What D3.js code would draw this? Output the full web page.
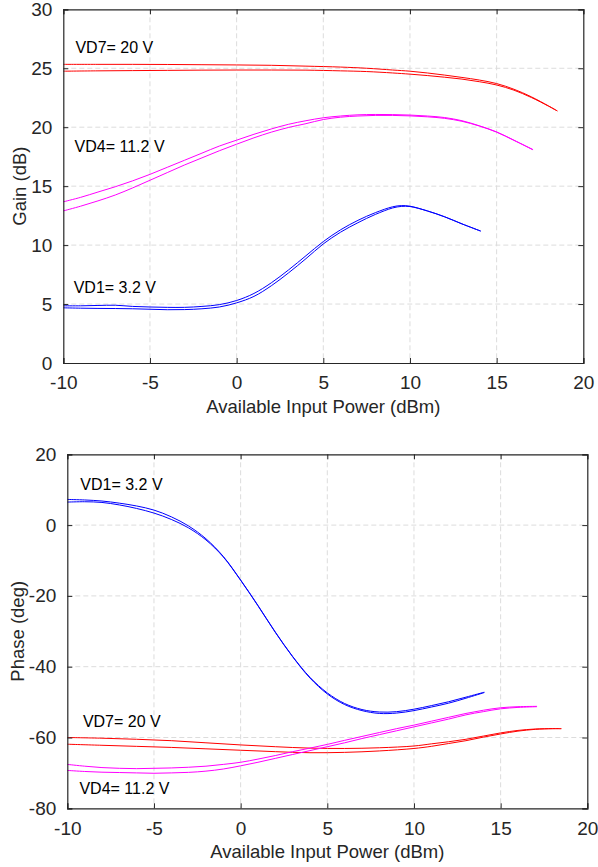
<!DOCTYPE html>
<html>
<head>
<meta charset="utf-8">
<script src="https://cdn.jsdelivr.net/npm/d3@7"></script>
<style>
  html, body { margin: 0; padding: 0; background: #fff; }
  svg { display: block; font-family: "Liberation Sans", Arial, Helvetica, sans-serif; }
</style>
</head>
<body>
<svg id="chart" width="598" height="867"></svg>
<script>
// ---- Axis ticks ----
const xTicks = [-10, -5, 0, 5, 10, 15, 20];
const gainTicks = [0, 5, 10, 15, 20, 25, 30];
const phaseTicks = [-80, -60, -40, -20, 0, 20];

// ---- Gain vs available input power (two sweeps per drain bias) ----
const gainVD1x = [-10, -9, -8, -7, -6, -5, -4, -3, -2, -1, 0, 1, 2, 3, 4, 5, 6, 7, 8, 9, 9.5, 10, 11, 12, 13, 14.08];
const gainVD1a = [4.85, 4.85, 4.88, 4.9, 4.8, 4.75, 4.72, 4.72, 4.8, 4.95, 5.3, 5.9, 6.8, 7.9, 9.1, 10.3, 11.3, 12.1, 12.75, 13.25, 13.35, 13.3, 12.9, 12.4, 11.8, 11.19];
const gainVD1b = [4.68, 4.65, 4.63, 4.62, 4.6, 4.56, 4.52, 4.53, 4.6, 4.75, 5.1, 5.65, 6.55, 7.65, 8.85, 10.1, 11.1, 11.9, 12.6, 13.15, 13.28, 13.27, 12.9, 12.4, 11.8, 11.19];

const gainVD4x = [-10, -9, -8, -7, -6, -5, -4, -3, -2, -1, 0, 1, 2, 3, 4, 5, 6, 7, 8, 9, 10, 11, 12, 13, 14, 15, 16, 17.1];
const gainVD4a = [13.67, 14.05, 14.5, 14.95, 15.45, 16.0, 16.6, 17.2, 17.8, 18.4, 18.9, 19.4, 19.85, 20.25, 20.55, 20.8, 20.95, 21.05, 21.08, 21.07, 21.03, 20.95, 20.82, 20.55, 20.12, 19.6, 18.9, 18.1];
const gainVD4b = [12.9, 13.3, 13.75, 14.25, 14.85, 15.5, 16.15, 16.8, 17.4, 18.0, 18.56, 19.1, 19.58, 19.98, 20.3, 20.65, 20.85, 20.95, 21.0, 21.0, 20.96, 20.88, 20.75, 20.5, 20.1, 19.58, 18.88, 18.08];

const gainVD7x = [-10, -8, -6, -4, -2, 0, 2, 4, 6, 7.5, 9, 10, 11, 12, 13, 14, 15, 16, 17, 18, 18.5];
const gainVD7a = [25.33, 25.33, 25.33, 25.32, 25.3, 25.28, 25.25, 25.18, 25.1, 25.0, 24.85, 24.75, 24.6, 24.42, 24.22, 24.0, 23.7, 23.22, 22.58, 21.8, 21.38];
const gainVD7b = [24.75, 24.78, 24.8, 24.82, 24.84, 24.85, 24.85, 24.84, 24.78, 24.72, 24.6, 24.5, 24.38, 24.24, 24.08, 23.86, 23.58, 23.14, 22.52, 21.78, 21.38];

// ---- Phase vs available input power ----
const phaseVD1x = [-10, -9, -8, -7, -6, -5, -4, -3, -2, -1, 0, 1, 2, 3, 4, 5, 6, 7, 8, 9, 10, 11, 12, 13, 14.06];
const phaseVD1a = [7.25, 7.1, 6.8, 6.2, 5.4, 4.24, 2.34, -0.26, -3.86, -8.86, -15.5, -22.7, -30.2, -37.1, -43.0, -47.4, -50.4, -52.1, -52.8, -52.7, -52.0, -51.0, -49.9, -48.6, -47.2];
const phaseVD1b = [6.5, 6.6, 6.4, 5.7, 4.7, 3.4, 1.6, -0.8, -4.2, -9.0, -15.6, -22.8, -30.3, -37.2, -43.2, -47.7, -50.7, -52.4, -53.2, -53.1, -52.4, -51.4, -50.3, -48.9, -47.3];

const phaseVD4x = [-10, -9, -8, -7, -6, -5, -4, -3, -2, -1, 0, 1, 2, 3, 4, 5, 6, 7, 8, 9, 10, 11, 12, 13, 14, 15, 16, 17.1];
const phaseVD4a = [-67.6, -68.1, -68.5, -68.7, -68.8, -68.7, -68.6, -68.4, -68.1, -67.6, -67.0, -66.1, -65.1, -64.0, -63.0, -61.95, -60.8, -59.7, -58.6, -57.5, -56.5, -55.4, -54.3, -53.2, -52.3, -51.6, -51.3, -51.2];
const phaseVD4b = [-69.3, -69.6, -69.8, -69.9, -70.0, -70.1, -70.0, -69.85, -69.5, -68.9, -68.0, -67.0, -65.9, -64.8, -63.7, -62.6, -61.5, -60.3, -59.2, -58.1, -57.0, -55.9, -54.8, -53.6, -52.7, -51.9, -51.5, -51.3];

const phaseVD7x = [-10, -8, -6, -4, -2, 0, 2, 4, 6, 8, 10, 11, 12, 13, 14, 15, 16, 17, 18, 18.5];
const phaseVD7a = [-60.0, -60.2, -60.5, -60.9, -61.5, -62.1, -62.6, -63.0, -63.1, -62.9, -62.4, -61.8, -61.2, -60.5, -59.6, -58.7, -58.0, -57.6, -57.5, -57.5];
const phaseVD7b = [-61.9, -62.2, -62.5, -62.8, -63.2, -63.6, -64.0, -64.3, -64.2, -63.8, -63.1, -62.5, -61.7, -60.9, -59.9, -59.0, -58.2, -57.7, -57.5, -57.5];

// ---- Bias labels ----
const gainLabels = [
  { text: "VD7= 20 V", x: -9.3, y: 26.3 },
  { text: "VD4= 11.2 V", x: -9.35, y: 17.9 },
  { text: "VD1= 3.2 V", x: -9.4, y: 5.9 }
];
const phaseLabels = [
  { text: "VD1= 3.2 V", x: -9.25, y: 9.9 },
  { text: "VD7= 20 V", x: -9.1, y: -57.0 },
  { text: "VD4= 11.2 V", x: -9.3, y: -75.9 }
];

const colors = { vd1: "#0000ff", vd4: "#ff00ff", vd7: "#ff0000" };
const ink = "#262626";

const svg = d3.select("#chart");

function zip(xs, ys) { return xs.map((x, i) => [x, ys[i]]); }

function drawPanel(cfg) {
  const x = d3.scaleLinear().domain([-10, 20]).range([cfg.left, cfg.right]);
  const y = d3.scaleLinear().domain(cfg.yDomain).range([cfg.bottom, cfg.top]);
  const g = svg.append("g");

  // dashed grid
  const grid = g.append("g").attr("stroke", "#dcdcdc").attr("stroke-width", 1).attr("stroke-dasharray", "5,3");
  xTicks.slice(1, -1).forEach(t => {
    grid.append("line").attr("x1", x(t)).attr("x2", x(t)).attr("y1", cfg.top).attr("y2", cfg.bottom);
  });
  cfg.yTicks.slice(1, -1).forEach(t => {
    grid.append("line").attr("x1", cfg.left).attr("x2", cfg.right).attr("y1", y(t)).attr("y2", y(t));
  });

  // measured curves
  const line = d3.line().x(d => x(d[0])).y(d => y(d[1])).curve(d3.curveCatmullRom.alpha(0.5));
  cfg.series.forEach(s => {
    g.append("path").attr("d", line(s.data)).attr("fill", "none")
      .attr("stroke", s.color).attr("stroke-width", 1);
  });

  // axes with inward ticks on all four sides
  const tl = 5;
  const fmt = d => String(d);
  const bottomAxis = d3.axisBottom(x).tickValues(xTicks).tickSize(-tl).tickPadding(tl + 8).tickFormat(fmt);
  const topAxis = d3.axisTop(x).tickValues(xTicks).tickSize(-tl).tickFormat("");
  const leftAxis = d3.axisLeft(y).tickValues(cfg.yTicks).tickSize(-tl).tickPadding(tl + 6).tickFormat(fmt);
  const rightAxis = d3.axisRight(y).tickValues(cfg.yTicks).tickSize(-tl).tickFormat("");

  const ax = [
    g.append("g").attr("transform", `translate(0,${cfg.bottom})`).call(bottomAxis),
    g.append("g").attr("transform", `translate(0,${cfg.top})`).call(topAxis),
    g.append("g").attr("transform", `translate(${cfg.left},0)`).call(leftAxis),
    g.append("g").attr("transform", `translate(${cfg.right},0)`).call(rightAxis)
  ];
  ax.forEach(a => {
    a.selectAll("path.domain").attr("stroke", ink).attr("stroke-width", 1.2);
    a.selectAll(".tick line").attr("stroke", ink).attr("stroke-width", 1);
    a.selectAll(".tick text").attr("fill", ink).attr("font-size", 19)
      .attr("font-family", "'Liberation Sans', Arial, sans-serif");
  });

  // axis titles
  g.append("text").attr("x", (cfg.left + cfg.right) / 2).attr("y", cfg.bottom + 50)
    .attr("text-anchor", "middle").attr("font-size", 18.5).attr("fill", ink)
    .text("Available Input Power (dBm)");
  g.append("text")
    .attr("transform", `translate(${cfg.yTitleX},${(cfg.top + cfg.bottom) / 2}) rotate(-90)`)
    .attr("text-anchor", "middle").attr("font-size", 18.5).attr("fill", ink)
    .text(cfg.yTitle);

  // bias annotations
  cfg.labels.forEach(l => {
    g.append("text").attr("x", x(l.x)).attr("y", y(l.y))
      .attr("font-size", 16).attr("fill", "#000").text(l.text);
  });
}

drawPanel({
  left: 63.3, right: 583.3, top: 9.3, bottom: 363,
  yDomain: [0, 30], yTicks: gainTicks, yTitle: "Gain (dB)", yTitleX: 26,
  labels: gainLabels,
  series: [
    { data: zip(gainVD7x, gainVD7a), color: colors.vd7 },
    { data: zip(gainVD7x, gainVD7b), color: colors.vd7 },
    { data: zip(gainVD4x, gainVD4a), color: colors.vd4 },
    { data: zip(gainVD4x, gainVD4b), color: colors.vd4 },
    { data: zip(gainVD1x, gainVD1a), color: colors.vd1 },
    { data: zip(gainVD1x, gainVD1b), color: colors.vd1 }
  ]
});

drawPanel({
  left: 67.3, right: 587.3, top: 454.3, bottom: 808.3,
  yDomain: [-80, 20], yTicks: phaseTicks, yTitle: "Phase (deg)", yTitleX: 24,
  labels: phaseLabels,
  series: [
    { data: zip(phaseVD1x, phaseVD1a), color: colors.vd1 },
    { data: zip(phaseVD1x, phaseVD1b), color: colors.vd1 },
    { data: zip(phaseVD7x, phaseVD7a), color: colors.vd7 },
    { data: zip(phaseVD7x, phaseVD7b), color: colors.vd7 },
    { data: zip(phaseVD4x, phaseVD4a), color: colors.vd4 },
    { data: zip(phaseVD4x, phaseVD4b), color: colors.vd4 }
  ]
});
</script>
</body>
</html>
